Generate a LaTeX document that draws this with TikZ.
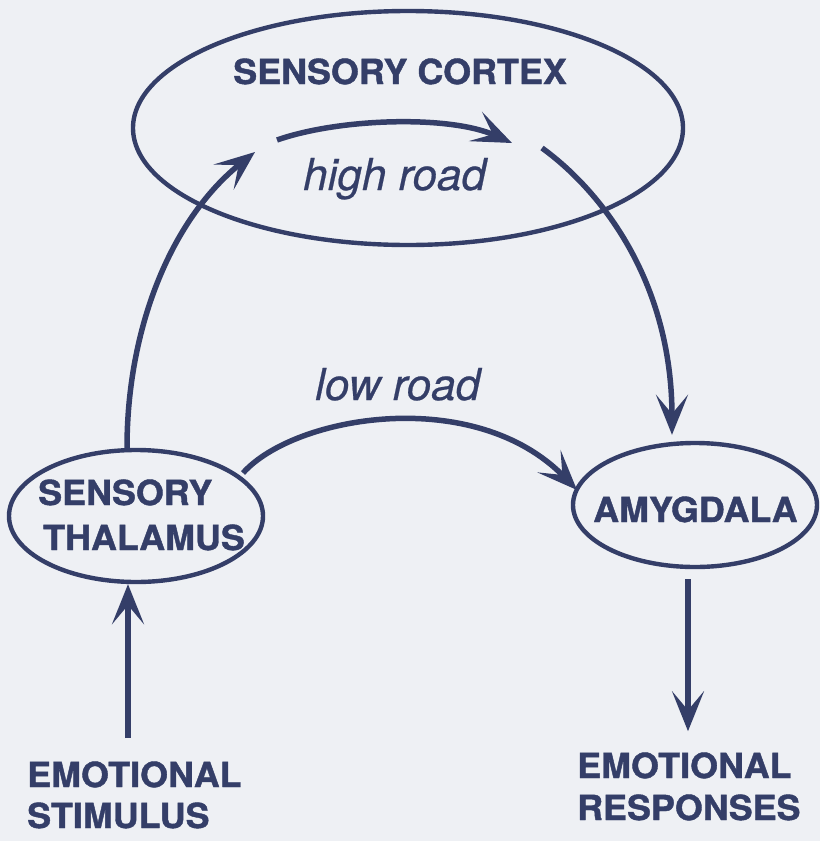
\documentclass[tikz,border=0pt]{standalone}
\usepackage{fontspec}
\setmainfont{TeX Gyre Heros}[BoldFeatures={FakeBold=1.2,FakeStretch=1.04}]
\newfontfamily\roadfont{TeX Gyre Heros}[ItalicFeatures={FakeBold=0.5}]
\usetikzlibrary{shapes.geometric,arrows.meta,calc}
\definecolor{ink}{RGB}{52,62,104}
\definecolor{paper}{RGB}{238,240,244}
\begin{document}
\begin{tikzpicture}[x=1pt,y=-1pt,
  oval/.style={draw=ink,line width=4.4pt,ellipse,inner sep=0pt},
  lbl/.style={text=ink,font=\fontsize{34.5}{41}\selectfont\bfseries,inner sep=0pt,anchor=base west},
  road/.style={text=ink,font=\fontsize{44}{50}\roadfont\itshape,inner sep=0pt,anchor=base west},
  conn/.style={draw=ink,line width=5.5pt,-{Stealth[length=40pt,width=32pt,inset=19pt]}}]
\fill[paper] (0,0) rectangle (820,841);
\useasboundingbox (0,0) rectangle (820,841);
% ellipses
\node[oval,minimum width=550pt,minimum height=234pt] (cortex) at (408,128) {};
\node[oval,minimum width=254pt,minimum height=132pt] (thal) at (136,516) {};
\node[oval,minimum width=244pt,minimum height=124pt] (amy) at (695,505) {};
% labels
\node[lbl,anchor=base] (ctext) at (400,84) {SENSORY CORTEX};
\node[lbl] (ttext1) at (38,505) {SENSORY};
\node[lbl] (ttext2) at (43,550) {THALAMUS};
\node[lbl] (atext) at (593,522) {AMYGDALA};
\node[lbl] (stim1) at (27,787) {EMOTIONAL};
\node[lbl] (stim2) at (27,828) {STIMULUS};
\node[lbl] (resp1) at (577,778) {EMOTIONAL};
\node[lbl] (resp2) at (577,820) {RESPONSES};
\node[road] (high) at (303,190) {high road};
\node[road] (low) at (315,400) {low road};
% coordinates inside the cortex and at the stimulus
\coordinate (hin) at (255,152);
\coordinate (hout) at (542,148);
\coordinate (hs) at (277,140);
\coordinate (he) at (512,143);
\coordinate (stimtop) at (128,738);
% connectors
\draw[conn] ([xshift=-9pt]thal.north) .. controls (127,330) and (170,220) .. (hin);
\draw[conn] (hout) .. controls (600,190) and (672,280) .. ([shift={(-23,-6)}]amy.north);
\draw[conn] (hs) .. controls (340,118) and (450,115) .. (he);
\draw[conn] ([shift={(107,-43)}]thal.center) .. controls (295,415) and (475,385) .. ([shift={(-118,-15)}]amy.center);
\draw[conn] (stimtop) -- ([xshift=-8pt]thal.south);
\draw[conn] ([shift={(-7,10)}]amy.south) -- ++(0,152);
\end{tikzpicture}
\end{document}
